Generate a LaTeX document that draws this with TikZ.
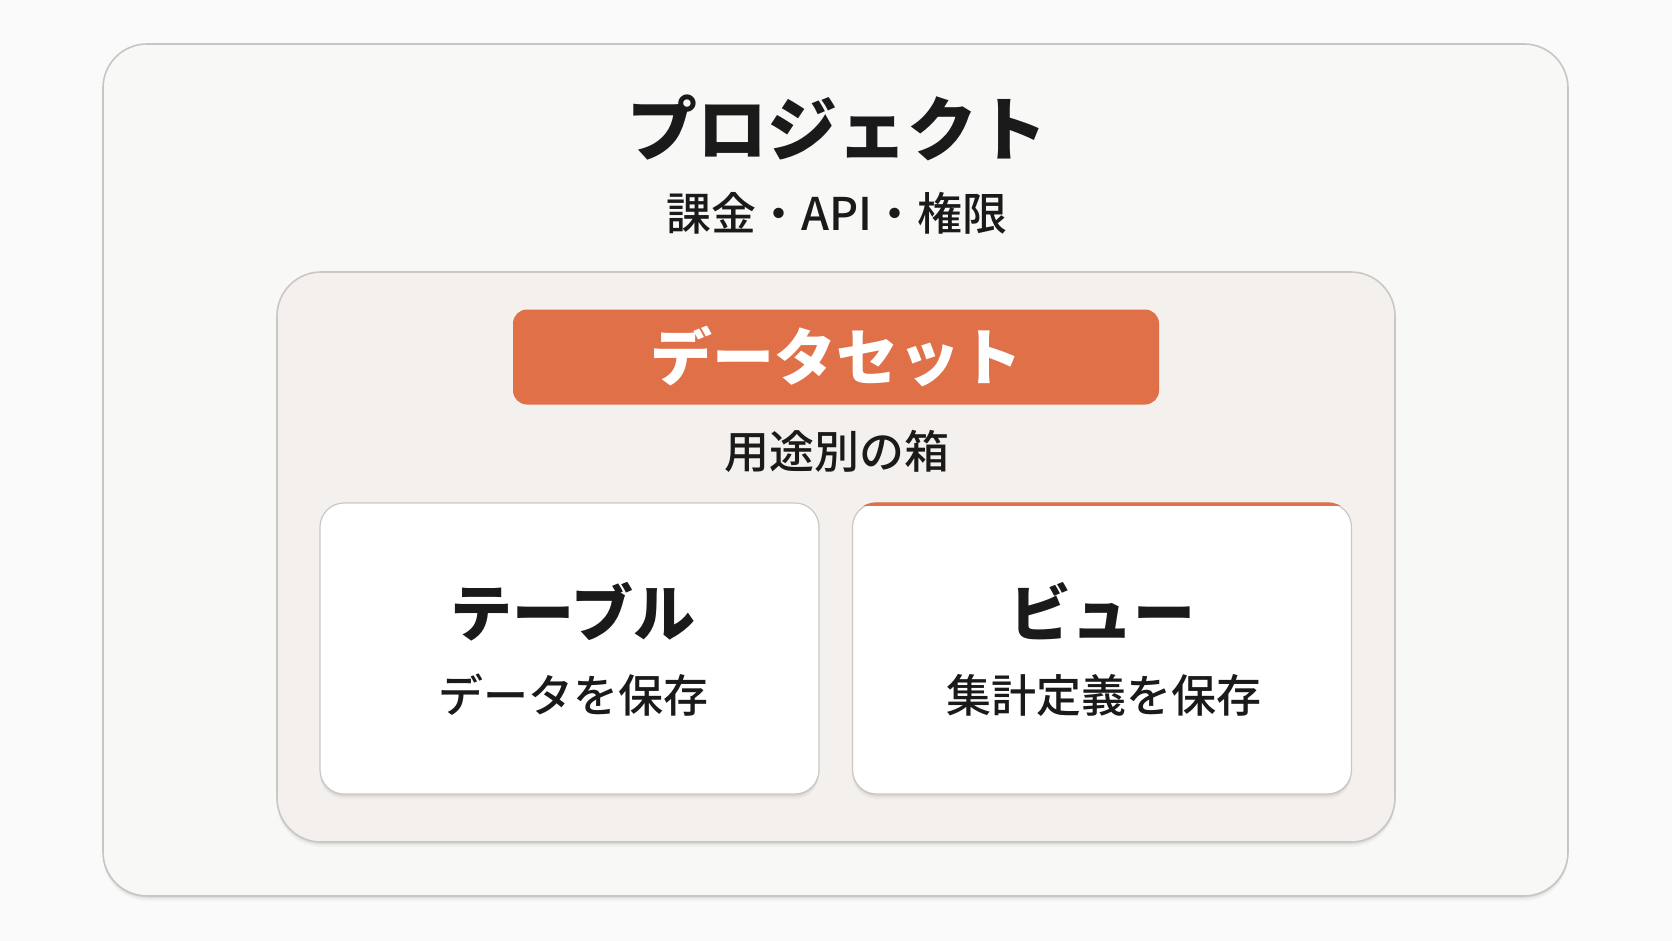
\documentclass[tikz,border=0pt]{standalone}
\usepackage{fontspec}
\setmainfont{Noto Sans CJK JP}
\newfontfamily\medfont{Noto Sans CJK JP Medium}
\usetikzlibrary{shadows}
\definecolor{pagebg}{HTML}{FAFAFA}
\definecolor{outerfill}{HTML}{F8F8F7}
\definecolor{outerline}{HTML}{C9C5C1}
\definecolor{midfill}{HTML}{F3F0ED}
\definecolor{midline}{HTML}{CBC7C3}
\definecolor{accent}{HTML}{E07048}
\definecolor{txt}{HTML}{1A1A1A}
\tikzset{
  softshadow/.style={
    drop shadow={shadow xshift=0pt, shadow yshift=-1.5pt, opacity=0.05, fill=black},
    drop shadow={shadow xshift=0pt, shadow yshift=-3pt, opacity=0.04, fill=black},
    drop shadow={shadow xshift=0pt, shadow yshift=-5pt, opacity=0.03, fill=black}},
  panel/.style={rounded corners=44pt, line width=1.6pt},
  outerbox/.style={panel, draw=outerline, fill=outerfill, softshadow},
  midbox/.style={panel, draw=midline, fill=midfill, softshadow},
  card/.style={rounded corners=24pt, draw=midline, line width=1.2pt, fill=white, softshadow},
  pill/.style={rounded corners=14pt, fill=accent},
  big/.style={font=\fontsize{70}{80}\selectfont\bfseries, text=txt},
  head/.style={font=\fontsize{62}{72}\selectfont\bfseries, text=txt},
  small/.style={font=\fontsize{45}{54}\selectfont\medfont, text=txt},
}
\begin{document}
\begin{tikzpicture}[x=1pt,y=1pt]
\fill[pagebg] (0,0) rectangle (1672,-941);
\useasboundingbox (0,0) rectangle (1672,-941);
% outer project box
\path[outerbox] (103,-44) rectangle (1568,-896);
% dataset box
\path[midbox] (277,-272) rectangle (1395,-842);
% orange header
\node[pill, minimum width=646pt, minimum height=95pt] (ds) at (836,-357) {};
\node[font=\fontsize{62}{72}\selectfont\bfseries, text=white] (dstext) at (ds) {データセット};
% cards
\node[card, minimum width=499pt, minimum height=291pt] (table) at (569.5,-648.5) {};
\node[card, minimum width=499pt, minimum height=291pt] (view) at (1102,-648.5) {};
\begin{scope}
  \clip[rounded corners=24pt] (view.south west) rectangle (view.north east);
  \fill[accent] ([yshift=-4pt]view.north west) rectangle (view.north east);
\end{scope}
% texts
\node[big] (proj) at (837,-128) {プロジェクト};
\node[small] (projsub) at (837,-213) {課金・API・権限};
\node[small] (dssub) at (837,-451) {用途別の箱};
\node[head] (tabt) at (573,-612) {テーブル};
\node[small] (tabs) at (573,-695) {データを保存};
\node[head] (viewt) at (1102,-611) {ビュー};
\node[small] (views) at (1104,-695) {集計定義を保存};
\end{tikzpicture}
\end{document}
